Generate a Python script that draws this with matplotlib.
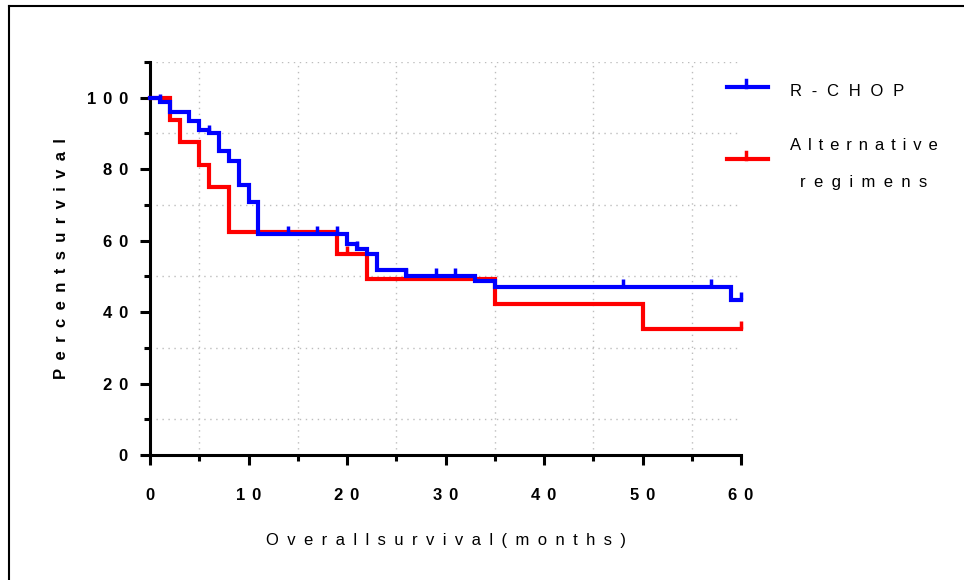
import matplotlib

matplotlib.use('Agg')
import numpy as np
import matplotlib.pyplot as plt
from matplotlib.lines import Line2D

plt.rcParams['font.family'] = ['Liberation Sans', 'DejaVu Sans']

# Kaplan-Meier steps (time in months, percent survival)
rchop_t = [0, 1, 2, 4, 5, 6, 7, 8, 9, 10, 11, 20, 21, 22, 23, 26, 33, 35, 59, 60]
rchop_s = [100, 98.8, 96.1, 93.6, 91.1, 90.2, 85.0, 82.2, 75.6, 70.7, 61.8,
           59.0, 57.6, 56.2, 51.8, 50.2, 48.7, 47.1, 43.4, 43.4]
rchop_cens = [1, 6, 14, 17, 19, 21, 26, 29, 31, 48, 57, 60]

alt_t = [0, 2, 3, 5, 6, 8, 19, 22, 35, 50, 60]
alt_s = [100, 93.75, 87.5, 81.25, 75, 62.5, 56.25, 49.2, 42.2, 35.2, 35.2]
alt_cens = [20, 60]

x_ticks = [0, 10, 20, 30, 40, 50, 60]
x_minor = [5, 15, 25, 35, 45, 55]
y_ticks = [0, 20, 40, 60, 80, 100]
y_minor = [10, 30, 50, 70, 90, 110]

BLUE = '#0000ff'
RED = '#ff0000'
SP = '\u2002'          # en space
SP_NARROW = '\u2004\u200a'


def spaced(s, sep=SP):
    # GraphPad-style wide letter spacing
    return sep.join(s.replace(' ', ''))


def surv_at(t, s, x):
    idx = np.searchsorted(t, x, side='right') - 1
    return np.array(s)[idx]


W, H = 964, 580
fig = plt.figure(figsize=(W / 100, H / 100), dpi=100)
ax = fig.add_axes([150 / W, 125 / H, 591 / W, 393 / H])

for t, s, cens, col in [(alt_t, alt_s, alt_cens, RED),
                        (rchop_t, rchop_s, rchop_cens, BLUE)]:
    ax.step(t, s, where='post', color=col, lw=3, clip_on=False,
            solid_joinstyle='miter', zorder=3)
    cy = surv_at(t, s, cens)
    ax.vlines(cens, cy, cy + 2.2, color=col, lw=2.5, clip_on=False, zorder=3)

ax.set_xlim(0, 60)
ax.set_ylim(0, 110)
ax.set_xticks(x_ticks)
ax.set_xticks(x_minor, minor=True)
ax.set_yticks(y_ticks)
ax.set_yticks(y_minor, minor=True)
ax.set_xticklabels([spaced(str(v), SP_NARROW) for v in x_ticks], fontweight='bold', fontsize=12)
ax.set_yticklabels([spaced(str(v), SP_NARROW) for v in y_ticks], fontweight='bold', fontsize=12)

ax.grid(which='minor', color='#bdbdbd', lw=1, linestyle=(0, (1, 3.3)))
ax.grid(which='major', visible=False)

for side in ['top', 'right']:
    ax.spines[side].set_visible(False)
for side in ['left', 'bottom']:
    ax.spines[side].set_linewidth(2.2)

ax.tick_params(which='major', length=7, width=2.2)
ax.tick_params(which='minor', length=4, width=2.2)
ax.tick_params(axis='x', which='both', pad=17)
ax.tick_params(axis='y', which='both', pad=9)

fig.text(445.5 / W, 1 - 540 / H, spaced('Overall survival (months)'),
         ha='center', va='center', fontsize=12)
fig.text(62 / W, 1 - 258.5 / H, spaced('Percent survival'), rotation=90,
         ha='center', va='center', fontsize=12, fontweight='bold')

# legend
for y, col in [(87, BLUE), (159, RED)]:
    fig.add_artist(Line2D([727 / W, 768 / W], [1 - y / H] * 2, color=col, lw=3))
    fig.add_artist(Line2D([746 / W] * 2, [1 - y / H, 1 - (y - 7) / H], color=col, lw=2.5))
fig.text(790 / W, 1 - 92 / H, spaced('R-CHOP', SP + '\u200a'), ha='left', va='center', fontsize=12)
fig.text(864 / W, 1 - 146 / H, spaced('Alternative', SP_NARROW), ha='center', va='center', fontsize=12)
fig.text(864 / W, 1 - 183 / H, spaced('regimens'), ha='center', va='center', fontsize=12)

# frame (only left and top edges are visible in the crop)
fig.add_artist(Line2D([8.5 / W, 8.5 / W], [0, 1 - 5.5 / H], color='black', lw=1.5))
fig.add_artist(Line2D([8.5 / W, 1], [1 - 5.5 / H] * 2, color='black', lw=1.5))

fig.savefig('out.png', dpi=100)
